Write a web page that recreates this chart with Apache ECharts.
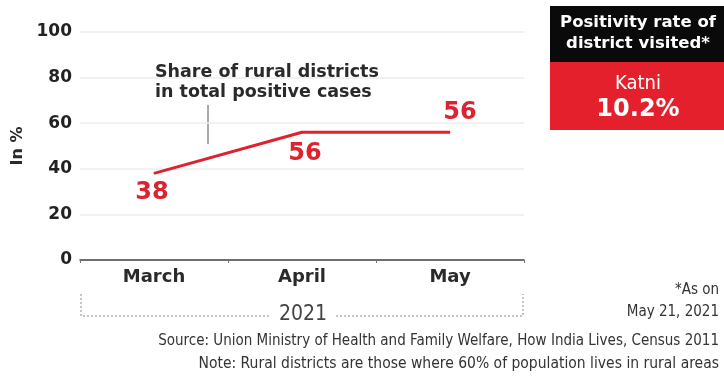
<!DOCTYPE html>
<html>
<head>
<meta charset="utf-8">
<script src="https://cdn.jsdelivr.net/npm/echarts@6/dist/echarts.min.js"></script>
<style>
  html, body { margin: 0; padding: 0; background: #fff; }
  #chart { width: 724px; height: 376px; }
</style>
</head>
<body>
<div id="chart"></div>
<script>
// Months shown on the category axis
const months = ['March', 'April', 'May'];
// Share of rural districts in total positive cases, per cent
const ruralShare = [38, 56, 56];
// Value axis ticks
const yTicks = [0, 20, 40, 60, 80, 100];
// Highlight box contents
const districtName = 'Katni';
const districtRate = '10.2%';

const RED = '#dd2230';
const BOLD = '"DejaVu Sans", "Open Sans", sans-serif';
const NARROW = '"DejaVu Sans Condensed", "Liberation Sans Narrow", "DejaVu Sans", sans-serif';

// per-point label placement for the value labels
const labelPlacement = [
  { position: 'bottom', distance: 7, offset: [-2, 0] },
  { position: 'bottom', distance: 9, offset: [3, 0] },
  { position: 'top', distance: 7, offset: [10, 0] }
];

const chart = echarts.init(document.getElementById('chart'), null, { renderer: 'canvas' });

chart.setOption({
  animation: false,
  backgroundColor: '#ffffff',
  grid: { left: 80, right: 200, top: 32, bottom: 116 },
  xAxis: {
    type: 'category',
    data: months,
    boundaryGap: true,
    axisLine: { lineStyle: { color: '#444', width: 1.5 } },
    axisTick: { show: true, length: 3, lineStyle: { color: '#777' } },
    axisLabel: {
      color: '#2a2a2a', fontFamily: BOLD, fontWeight: 'bold', fontSize: 18, margin: 8
    },
    splitLine: { show: false }
  },
  yAxis: {
    type: 'value',
    min: yTicks[0],
    max: yTicks[yTicks.length - 1],
    interval: yTicks[1] - yTicks[0],
    name: 'In %',
    nameLocation: 'middle',
    nameGap: 50,
    nameRotate: 90,
    nameTextStyle: { color: '#2a2a2a', fontFamily: BOLD, fontWeight: 'bold', fontSize: 16 },
    axisLine: { show: false },
    axisTick: { show: false },
    axisLabel: {
      color: '#222', fontFamily: BOLD, fontWeight: 'bold', fontSize: 17, margin: 8
    },
    splitLine: { lineStyle: { color: '#ececec', width: 1.5 } }
  },
  series: [{
    type: 'line',
    data: ruralShare.map((v, i) => ({
      value: v,
      label: labelPlacement[i]
    })),
    symbol: 'circle',
    symbolSize: 1,
    showSymbol: true,
    itemStyle: { color: RED },
    lineStyle: { color: RED, width: 3 },
    label: {
      show: true,
      color: RED,
      fontFamily: BOLD,
      fontWeight: 'bold',
      fontSize: 24
    },
    z: 5
  }],
  graphic: [
    // series annotation
    {
      type: 'text', left: 155, top: 62,
      style: {
        text: 'Share of rural districts\nin total positive cases',
        fill: '#2a2a2a', font: 'bold 17.5px ' + BOLD, lineHeight: 20
      }
    },
    {
      type: 'line',
      shape: { x1: 208, y1: 105, x2: 208, y2: 144 },
      style: { stroke: '#555', lineWidth: 1 }
    },
    // year bracket under the axis
    {
      type: 'polyline',
      shape: { points: [[81, 294], [81, 316], [270, 316]] },
      style: { stroke: '#888', lineWidth: 1, lineDash: [2, 2], fill: null }
    },
    {
      type: 'polyline',
      shape: { points: [[336, 316], [523, 316], [523, 294]] },
      style: { stroke: '#888', lineWidth: 1, lineDash: [2, 2], fill: null }
    },
    {
      type: 'text', x: 303, y: 315,
      style: {
        text: '2021', fill: '#444', font: '21px ' + NARROW,
        textAlign: 'center', textVerticalAlign: 'middle'
      }
    },
    // footnotes
    {
      type: 'text', x: 719, y: 290,
      style: {
        text: '*As on', fill: '#333', font: '15px ' + NARROW,
        textAlign: 'right', textVerticalAlign: 'middle'
      }
    },
    {
      type: 'text', x: 719, y: 312,
      style: {
        text: 'May 21, 2021', fill: '#333', font: '15px ' + NARROW,
        textAlign: 'right', textVerticalAlign: 'middle'
      }
    },
    {
      type: 'text', x: 719, y: 341,
      style: {
        text: 'Source: Union Ministry of Health and Family Welfare, How India Lives, Census 2011',
        fill: '#333', font: '15px ' + NARROW,
        textAlign: 'right', textVerticalAlign: 'middle'
      }
    },
    {
      type: 'text', x: 719, y: 364,
      style: {
        text: 'Note: Rural districts are those where 60% of population lives in rural areas',
        fill: '#333', font: '15.5px ' + NARROW,
        textAlign: 'right', textVerticalAlign: 'middle'
      }
    },
    // highlight box
    {
      type: 'rect',
      shape: { x: 550, y: 6, width: 174, height: 56 },
      style: { fill: '#0a0a0a' }
    },
    {
      type: 'rect',
      shape: { x: 550, y: 62, width: 174, height: 68 },
      style: { fill: '#e3202c' }
    },
    {
      type: 'text', x: 638, y: 33,
      style: {
        text: 'Positivity rate of\ndistrict visited*', fill: '#fff',
        font: 'bold 16.5px ' + BOLD, lineHeight: 21,
        textAlign: 'center', textVerticalAlign: 'middle'
      }
    },
    {
      type: 'text', x: 638, y: 84,
      style: {
        text: districtName, fill: '#fff', font: '20px ' + NARROW,
        textAlign: 'center', textVerticalAlign: 'middle'
      }
    },
    {
      type: 'text', x: 638, y: 110,
      style: {
        text: districtRate, fill: '#fff', font: 'bold 24px ' + BOLD,
        textAlign: 'center', textVerticalAlign: 'middle'
      }
    }
  ]
});
</script>
</body>
</html>
